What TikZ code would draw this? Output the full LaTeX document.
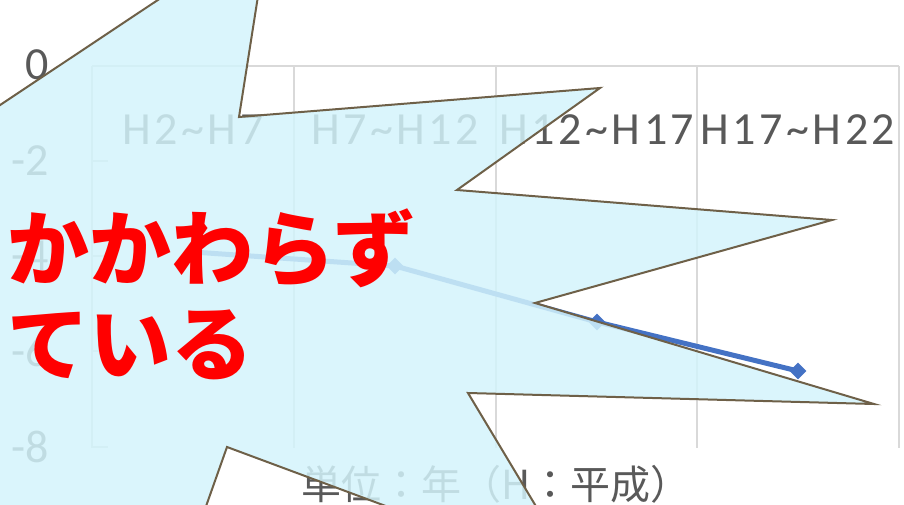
\documentclass[tikz,border=0pt]{standalone}
\usepackage{fontspec}
\setmainfont{Carlito}
\newfontfamily\jpfont{Noto Sans CJK JP}
\newfontfamily\catfont{Carlito}[LetterSpace=7.5]
\usetikzlibrary{shapes.geometric}
\definecolor{axisgray}{RGB}{89,89,89}
\definecolor{gridgray}{RGB}{217,217,217}
\definecolor{lineblue}{RGB}{68,114,196}
\definecolor{burstfill}{RGB}{211,243,251}
\definecolor{burstedge}{RGB}{110,96,72}
\tikzset{
    grid line/.style={draw=gridgray, line width=1.5pt},
    axis label/.style={font=\fontsize{46}{46}\selectfont, text=axisgray, anchor=east, inner sep=0pt},
    cat label/.style={font=\catfont\fontsize{46}{46}\selectfont, text=axisgray, inner sep=0pt},
    unit label/.style={font=\jpfont\fontsize{40}{40}\selectfont, text=axisgray, inner sep=0pt, anchor=base},
    data line/.style={draw=lineblue, line width=5pt, line join=round},
    data mark/.style={diamond, fill=lineblue, inner sep=0pt, minimum size=17pt},
    burst/.style={draw=burstedge, line width=2pt, fill=burstfill, fill opacity=0.85},
    shout/.style={font=\jpfont\bfseries\fontsize{82}{82}\selectfont, text=red, inner sep=0pt, anchor=base west}
}

\begin{document}
\begin{tikzpicture}[x=1pt,y=-1pt]
    \useasboundingbox (0,0) rectangle (904,505);
    \clip (0,0) rectangle (904,505);
    % plot area
    \foreach \i/\x in {0/92,1/294,2/496,3/697,4/899}{
        \coordinate (g\i t) at (\x,66);
        \coordinate (g\i b) at (\x,448);
        \draw[grid line] (g\i t) -- (g\i b);
    }
    \draw[grid line] (g0t) -- (g4t);
    % value axis
    \node[axis label] (y0) at (49,65) {0};
    \foreach \i/\y/\v in {1/161/-2,2/256/-4,3/351/-6,4/447/-8}{
        \node[axis label] (y\i) at (49,\y) {\v};
        \coordinate (tk\i) at (92,\y);
        \draw[grid line] (tk\i) -- ++(16,0);
    }
    % categories
    \node[cat label] (c1) at (193,130) {H2\textasciitilde H7};
    \node[cat label] (c2) at (395,130) {H7\textasciitilde H12};
    \node[cat label] (c3) at (597,130) {H12\textasciitilde H17};
    \node[cat label] (c4) at (798,130) {H17\textasciitilde H22};
    \node[unit label] (unit) at (496,499) {単位：年（H：平成）};
    % series
    \coordinate (p1) at (193,252);
    \coordinate (p2) at (395,266);
    \coordinate (p3) at (597,322);
    \coordinate (p4) at (798,371);
    \draw[data line] (p1) -- (p2) -- (p3) -- (p4);
    \node[data mark] (m1) at (p1) {};
    \node[data mark] (m2) at (p2) {};
    \node[data mark] (m3) at (p3) {};
    \node[data mark] (m4) at (p4) {};
    % burst
    \coordinate (b1) at (269,-74);
    \coordinate (b2) at (239,117);
    \coordinate (b3) at (600,88);
    \coordinate (b4) at (457,190);
    \coordinate (b5) at (832,220);
    \coordinate (b6) at (535,303);
    \coordinate (b7) at (874,404);
    \coordinate (b8) at (468,393);
    \coordinate (b9) at (579,578);
    \coordinate (b10) at (383,505);
    \coordinate (b11) at (227,447);
    \coordinate (b12) at (187,560);
    \coordinate (b13) at (-80,560);
    \coordinate (b14) at (-60,145);
    \draw[burst] (b1) -- (b2) -- (b3) -- (b4) -- (b5) -- (b6) -- (b7) -- (b8)
        -- (b9) -- (b10) -- (b11) -- (b12) -- (b13) -- (b14) -- cycle;
    % text
    \node[shout] (s1) at (7,279) {かかわらず};
    \node[shout] (s2) at (7,374) {ている};
\end{tikzpicture}
\end{document}
